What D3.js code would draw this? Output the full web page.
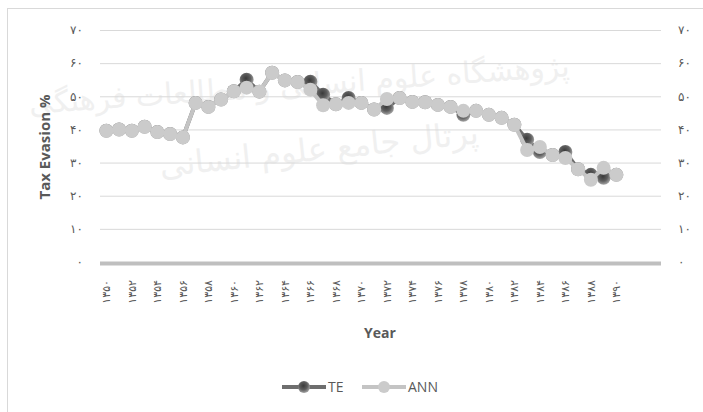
<!DOCTYPE html>
<html>
<head>
<meta charset="utf-8">
<script src="https://cdn.jsdelivr.net/npm/d3@7"></script>
<style>
  body { margin: 0; background: #fff; }
  svg { display: block; }
</style>
</head>
<body>
<div id="chart"></div>
<script>
var svg_width = 703;
var svg_height = 412;

// Years 1350..1390 (Persian calendar)
var years = d3.range(1350, 1391);

var te_values = [39.6, 40, 39.6, 40.8, 39.2, 38.6, 37.6, 48, 46.8, 49, 51.5, 55, 51.4, 57.1, 54.8, 54.3,
  54.4, 50.5, 47.6, 49.5, 48, 46, 46.5, 49.5, 48.3, 48.2, 47.4, 46.8, 44.4, 45.6, 44.4, 43.5, 41.4,
  36.9, 33.2, 32.3, 33.2, 28, 26.3, 25.4, 26.3];

var ann_values = [39.6, 40, 39.6, 40.8, 39.2, 38.6, 37.6, 48, 46.8, 49, 51.5, 52.6, 51.4, 57.1, 54.8, 54.3,
  52, 47.3, 47.6, 48, 48, 46, 49.2, 49.5, 48.3, 48.2, 47.4, 46.8, 45.6, 45.6, 44.4, 43.5, 41.4,
  33.8, 34.7, 32.3, 31.4, 28, 24.8, 28.4, 26.3];

var y_ticks = [0, 10, 20, 30, 40, 50, 60, 70];
var series_names = ["TE", "ANN"];

var margin = { top: 30, right: 42, bottom: 150, left: 100 };
var width = 661 - margin.left;
var height = 262 - margin.top;

function toPersian(n) {
  return String(n).replace(/\d/g, function(c) { return "۰۱۲۳۴۵۶۷۸۹"[+c]; });
}

var svg = d3.select("#chart").append("svg")
  .attr("width", svg_width)
  .attr("height", svg_height);

// gradient for TE markers
var defs = svg.append("defs");
var grad = defs.append("radialGradient").attr("id", "te_grad")
  .attr("cx", "45%").attr("cy", "40%").attr("r", "60%");
grad.append("stop").attr("offset", "0%").attr("stop-color", "#3a3a3a");
grad.append("stop").attr("offset", "55%").attr("stop-color", "#5e5e5e");
grad.append("stop").attr("offset", "100%").attr("stop-color", "#a5a5a5");

// chart border
svg.append("rect")
  .attr("x", 7.5).attr("y", 8.5)
  .attr("width", 740).attr("height", 440)
  .attr("fill", "none")
  .attr("stroke", "#d9d9d9");

// faint watermark
var wm = svg.append("g").attr("font-family", "DejaVu Sans").attr("fill", "#f0f0f0");
wm.append("text").attr("x", 300).attr("y", 95).attr("font-size", 30)
  .attr("text-anchor", "middle").attr("transform", "rotate(-4, 300, 95)")
  .text("پژوهشگاه علوم انسانی و مطالعات فرهنگی");
wm.append("text").attr("x", 320).attr("y", 160).attr("font-size", 32)
  .attr("text-anchor", "middle").attr("transform", "rotate(-6, 320, 160)")
  .text("پرتال جامع علوم انسانی");

var g = svg.append("g")
  .attr("transform", `translate(${margin.left}, ${margin.top})`);

// scales (3 empty categories after 1390)
var x = d3.scaleLinear()
  .domain([years[0] - 0.5, years[years.length - 1] + 3.5])
  .range([0, width]);

var y = d3.scaleLinear()
  .domain([0, 70])
  .range([height, 0]);

// gridlines
g.selectAll(".grid")
  .data(y_ticks.filter(d => d > 0))
  .enter().append("line")
  .attr("x1", 0).attr("x2", width)
  .attr("y1", d => y(d) + 0.5).attr("y2", d => y(d) + 0.5)
  .attr("stroke", "#d9d9d9");

// left + right axis labels
var axis_left = d3.axisLeft(y).tickValues(y_ticks).tickSize(0).tickPadding(17).tickFormat(toPersian);
var axis_right = d3.axisRight(y).tickValues(y_ticks).tickSize(0).tickPadding(17).tickFormat(toPersian);

var y_axis_l = g.append("g").call(axis_left);
var y_axis_r = g.append("g").attr("transform", `translate(${width}, 0)`).call(axis_right);
[y_axis_l, y_axis_r].forEach(function(a) {
  a.select(".domain").remove();
  a.selectAll("text")
    .attr("font-family", "DejaVu Sans")
    .attr("font-size", "12px")
    .attr("letter-spacing", "3px")
    .attr("fill", "#595959");
});

// x axis line
g.append("line")
  .attr("x1", 0).attr("x2", width)
  .attr("y1", y(0) + 1.5).attr("y2", y(0) + 1.5)
  .attr("stroke", "#bfbfbf")
  .attr("stroke-width", 4);

// x tick labels every 2 years
g.selectAll(".xlabel")
  .data(years.filter((d, i) => i % 2 === 0))
  .enter().append("text")
  .attr("transform", d => `translate(${x(d) + 4}, ${y(0) + 18}) rotate(-90)`)
  .attr("text-anchor", "end")
  .attr("font-family", "DejaVu Sans")
  .attr("font-size", "11px")
  .attr("letter-spacing", "3px")
  .attr("fill", "#595959")
  .text(d => toPersian(d));

// axis titles
svg.append("text")
  .attr("transform", "translate(50, 147) rotate(-90)")
  .attr("text-anchor", "middle")
  .attr("font-family", "Open Sans")
  .attr("font-weight", "bold")
  .attr("font-size", "15px")
  .attr("fill", "#595959")
  .text("Tax Evasion %");

svg.append("text")
  .attr("x", 380).attr("y", 338)
  .attr("text-anchor", "middle")
  .attr("font-family", "Open Sans")
  .attr("font-weight", "bold")
  .attr("font-size", "14px")
  .attr("fill", "#595959")
  .text("Year");

// lines
var line_gen = d3.line()
  .x(d => x(d.year))
  .y(d => y(d.value));

var te_data = years.map((yr, i) => ({ year: yr, value: te_values[i] }));
var ann_data = years.map((yr, i) => ({ year: yr, value: ann_values[i] }));

var styles = [
  { data: te_data, line: "#6e6e6e", fill: "url(#te_grad)" },
  { data: ann_data, line: "#c4c4c4", fill: "#cbcbcb" }
];

styles.forEach(function(s) {
  g.append("path")
    .datum(s.data)
    .attr("fill", "none")
    .attr("stroke", s.line)
    .attr("stroke-width", 4)
    .attr("d", line_gen);

  g.selectAll(null)
    .data(s.data)
    .enter().append("circle")
    .attr("cx", d => x(d.year))
    .attr("cy", d => y(d.value))
    .attr("r", 7)
    .attr("fill", s.fill);
});

// legend
var legend = svg.append("g").attr("transform", "translate(282, 387)");
var legend_x = [0, 80];
series_names.forEach(function(name, i) {
  var item = legend.append("g").attr("transform", `translate(${legend_x[i]}, 0)`);
  item.append("line")
    .attr("x1", 0).attr("x2", 44)
    .attr("stroke", styles[i].line)
    .attr("stroke-width", 4);
  item.append("circle")
    .attr("cx", 22).attr("cy", 0).attr("r", 6)
    .attr("fill", styles[i].fill);
  item.append("text")
    .attr("x", 46).attr("dy", "0.35em")
    .attr("font-family", "Open Sans")
    .attr("font-size", "14px")
    .attr("fill", "#595959")
    .text(name);
});
</script>
</body>
</html>
